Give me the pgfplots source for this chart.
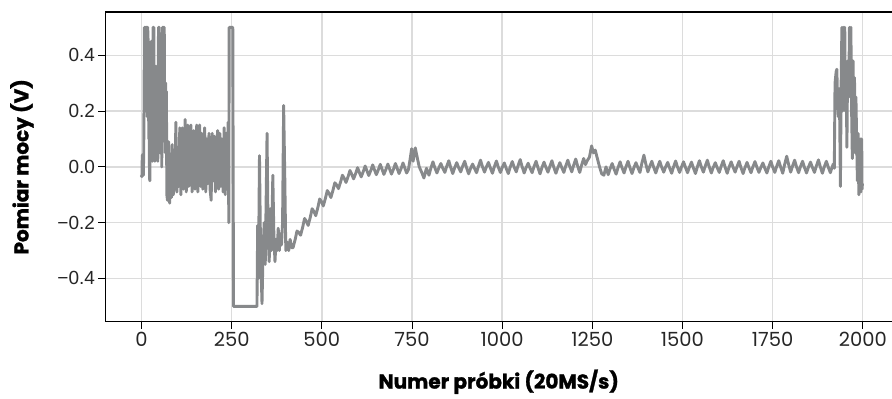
\documentclass[border=0pt]{standalone}
\usepackage{pgfplots}
\pgfplotsset{compat=1.18}
\usepackage{fontspec}
\setmainfont{Poppins}
\newfontfamily\ytfont{Liberation Sans}
\newfontfamily\labfont[FakeBold=1.5]{Poppins Bold}
\definecolor{trace}{RGB}{135,137,139}
\definecolor{gridc}{RGB}{220,220,220}

\pgfplotstableread{
x y
-1 -0.03
1 -0.035
2 0.04
4 0.045
5 -0.03
6 0.05
8 0.5
10 0.5
11 0.2
12 0.36
13 0.5
15 0.5
16 0.18
17 0.5
19 0.42
20 0.1
21 0.3
22 -0.04
23 -0.05
24 0.25
26 0.08
27 0.45
28 0.2
29 0.42
30 0.02
31 0.32
32 0.5
34 0.5
35 0.15
36 0.35
37 0.02
38 0.28
39 0.12
40 0.36
41 0.1
42 0.3
43 0.15
44 0.36
45 0.02
46 0.3
47 0.5
49 0.5
50 0.1
51 0.33
52 0.05
53 0.4
54 0.12
55 0.3
56 0.0
57 0.25
58 0.5
60 0.5
61 0.1
62 0.5
63 0.5
64 0.09
65 0.28
66 0.05
67 0.3
68 0.13
69 0.27
70 -0.1
72 -0.12
75 0.09
78 -0.13
80 0.04
83 -0.11
85 0.08
88 -0.1
90 0.03
93 -0.08
95 0.16
98 -0.09
100 0.06
103 -0.07
106 0.14
109 -0.1
111 0.05
113 0.14
116 -0.08
118 0.02
121 0.17
124 -0.09
126 0.04
128 0.15
131 -0.07
134 0.05
137 0.15
140 -0.09
142 0.02
145 0.13
148 -0.08
150 0.06
153 0.15
156 -0.09
158 0.03
161 0.15
164 -0.07
167 0.12
170 -0.08
172 0.04
175 0.14
178 -0.09
181 0.1
184 -0.06
187 0.12
190 -0.08
193 -0.12
196 0.12
199 -0.05
202 0.11
205 -0.09
208 0.06
211 0.13
214 -0.08
217 0.12
220 -0.07
223 0.1
226 -0.09
229 0.14
232 -0.1
235 0.12
237 -0.08
240 0.16
242 -0.2
243 0.5
253 0.5
255 -0.5
320 -0.5
322 -0.21
324 -0.4
327 0.04
330 -0.3
334 -0.49
337 -0.3
340 -0.2
343 -0.35
348 0.12
351 -0.25
354 -0.34
357 -0.15
360 -0.3
364 -0.03
367 -0.25
370 -0.34
373 -0.26
376 -0.3
379 -0.22
382 -0.3
385 -0.24
388 -0.28
391 -0.2
394 0.22
397 -0.02
400 -0.3
404 -0.27
408 -0.3
412 -0.26
416 -0.29
420 -0.29
426 -0.26
431 -0.23
436 -0.235
441 -0.245
447 -0.215
452 -0.185
457 -0.195
462 -0.21
468 -0.18
473 -0.15
478 -0.16
483 -0.175
489 -0.145
494 -0.115
499 -0.125
504 -0.14
510 -0.112
515 -0.085
520 -0.095
525 -0.11
531 -0.083
536 -0.057
541 -0.065
546 -0.078
552 -0.054
557 -0.03
562 -0.041
567 -0.056
573 -0.034
578 -0.013
583 -0.027
588 -0.043
594 -0.023
599 -0.003
604 -0.02
609 -0.036
615 -0.016
620 0.003
625 -0.014
630 -0.031
636 -0.012
641 0.007
646 -0.011
651 -0.028
657 -0.009
662 0.009
667 -0.009
672 -0.027
678 -0.008
683 0.01
688 -0.008
693 -0.026
699 -0.007
704 0.012
709 -0.006
714 -0.024
720 -0.005
725 0.014
730 -0.004
735 -0.022
740 -0.01
745 0.03
749 0.065
753 0.02
759 0.068
765 0.03
770 0.0
777 -0.02
783 -0.04
790 -0.005
797 -0.03
802 -0.006
808 0.018
813 -0.002
819 -0.022
824 -0.005
830 0.012
835 -0.004
841 -0.02
846 0.001
852 0.022
857 -0.001
863 -0.024
868 -0.004
874 0.015
879 -0.002
885 -0.018
890 0.001
896 0.02
901 -0.002
907 -0.025
912 -0.007
918 0.01
923 -0.005
929 -0.021
934 0.001
940 0.024
945 0.002
951 -0.019
956 -0.001
962 0.016
967 -0.003
973 -0.023
978 -0.001
984 0.021
989 0.0
995 -0.02
1000 -0.003
1006 0.014
1011 -0.005
1017 -0.024
1022 -0.002
1028 0.019
1033 0.0
1039 -0.018
1044 0.004
1050 0.026
1055 0.002
1061 -0.022
1066 -0.004
1072 0.013
1077 -0.004
1083 -0.021
1088 -0.0
1094 0.02
1099 -0.002
1105 -0.025
1110 -0.004
1116 0.017
1121 -0.001
1127 -0.019
1132 0.001
1138 0.022
1143 -0.001
1149 -0.023
1154 -0.004
1160 0.015
1165 -0.002
1171 -0.02
1176 0.002
1182 0.024
1187 0.003
1193 -0.018
1198 0.005
1204 0.028
1209 0.004
1215 -0.02
1220 0.005
1226 0.03
1231 0.008
1235 0.02
1242 0.035
1248 0.075
1253 0.05
1258 0.06
1264 0.03
1270 0.0
1276 -0.025
1282 -0.03
1288 0.0
1294 -0.028
1299 -0.008
1305 0.012
1310 -0.007
1316 -0.026
1321 -0.004
1327 0.018
1332 -0.002
1338 -0.022
1343 -0.001
1349 0.02
1354 -0.002
1360 -0.024
1365 -0.004
1371 0.015
1376 -0.002
1382 -0.02
1387 0.011
1393 0.042
1398 0.012
1404 -0.018
1409 0.001
1415 0.02
1420 -0.001
1426 -0.022
1431 -0.001
1437 0.02
1442 0.0
1448 -0.019
1453 -0.001
1459 0.016
1464 -0.003
1470 -0.023
1475 -0.001
1481 0.021
1486 0.0
1492 -0.02
1497 -0.001
1503 0.018
1508 -0.001
1514 -0.021
1519 -0.002
1525 0.017
1530 -0.003
1536 -0.024
1541 -0.001
1547 0.022
1552 0.001
1558 -0.019
1563 0.002
1569 0.024
1574 0.001
1580 -0.022
1585 -0.003
1591 0.015
1596 -0.002
1602 -0.02
1607 0.001
1613 0.022
1618 0.0
1624 -0.023
1629 -0.002
1635 0.018
1640 0.0
1646 -0.019
1651 0.0
1657 0.02
1662 -0.002
1668 -0.024
1673 -0.004
1679 0.016
1684 -0.002
1690 -0.021
1695 -0.001
1701 0.019
1706 0.0
1712 -0.02
1717 -0.003
1723 0.014
1728 -0.004
1734 -0.022
1739 -0.001
1745 0.02
1750 0.0
1756 -0.02
1761 0.001
1767 0.022
1772 0.0
1778 -0.023
1783 0.007
1789 0.038
1794 0.01
1800 -0.019
1805 0.002
1811 0.024
1816 0.001
1822 -0.021
1827 -0.0
1833 0.02
1838 -0.001
1844 -0.022
1849 -0.002
1855 0.017
1860 -0.001
1866 -0.02
1871 0.002
1877 0.025
1882 0.001
1888 -0.023
1893 -0.001
1899 0.02
1904 0.0
1910 -0.021
1914 -0.005
1918 0.01
1921 -0.005
1923 0.3
1926 0.34
1928 0.35
1930 0.25
1932 0.18
1935 0.28
1938 -0.07
1940 0.3
1942 0.5
1944 0.2
1946 0.5
1948 0.35
1950 0.5
1952 0.2
1954 0.3
1956 0.07
1958 0.38
1961 0.25
1963 0.5
1965 0.3
1967 0.5
1969 0.2
1971 0.03
1973 0.38
1975 0.15
1977 0.32
1979 0.05
1981 0.25
1983 0.1
1985 -0.05
1987 0.12
1989 -0.1
1991 0.05
1993 0.1
1995 -0.09
1997 0.1
1998 -0.08
1999 -0.06
}\trace

\begin{document}
\begin{tikzpicture}[x=1pt,y=1pt]
\begin{axis}[
  at={(0,0)}, anchor=south west,
  scale only axis, width=786.5pt, height=309.7pt,
  xmin=-100, xmax=2081, ymin=-0.555, ymax=0.555,
  axis line style={draw=none},
  tick align=outside, tick pos=left,
  major tick length=7pt,
  every tick/.style={black, line width=1pt},
  xtick={0,250,500,750,1000,1250,1500,1750,2000},
  xticklabels={0,250,500,750,1000,1250,1500,1750,2000},
  ytick={-0.4,-0.2,0,0.2,0.4},
  yticklabels={−0.4,−0.2,0.0,0.2,0.4},
  xticklabel style={font=\fontsize{19.5}{20}\selectfont, text=black!85},
  yticklabel style={font=\ytfont\fontsize{19}{20}\selectfont, text=black!85},
  grid=major, major grid style={gridc, line width=1.4pt},
  xlabel={Numer próbki (20MS/s)},
  ylabel={Pomiar mocy (V)},
  xlabel style={font=\labfont\fontsize{20}{22}\selectfont, at={(axis description cs:0.5,0)}, anchor=center, yshift=-60pt},
  ylabel style={font=\labfont\fontsize{20}{22}\selectfont, at={(axis description cs:-0.1062,0.5)}, anchor=center},
]
\addplot[trace, line width=2.9pt, line join=round, no markers] table[x=x,y=y] {\trace};
\end{axis}
\draw[black, line width=1.1pt] (786.5,309.7) -- (0,309.7) -- (0,0) -- (786.5,0);
\pgfresetboundingbox
\path (-105.5,-77.3) rectangle (786.5,321.7);
\end{tikzpicture}
\end{document}
